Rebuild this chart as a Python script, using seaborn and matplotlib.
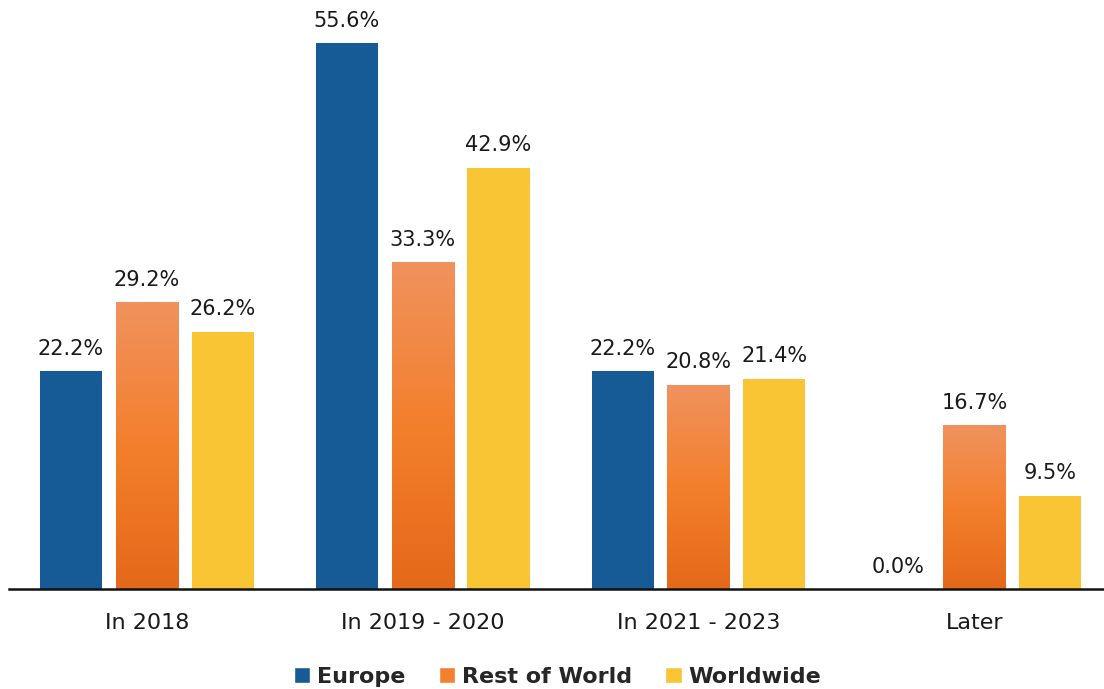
import numpy as np
import pandas as pd
import seaborn as sns
import matplotlib.pyplot as plt
from matplotlib.colors import LinearSegmentedColormap
from matplotlib.patches import Patch

# 데이터
periods = ['In 2018', 'In 2019 - 2020', 'In 2021 - 2023', 'Later']
regions = ['Europe', 'Rest of World', 'Worldwide']
europe = [22.2, 55.6, 22.2, 0.0]
rest_of_world = [29.2, 33.3, 20.8, 16.7]
worldwide = [26.2, 42.9, 21.4, 9.5]

df = pd.DataFrame({'period': periods * 3,
                   'region': np.repeat(regions, len(periods)),
                   'share': europe + rest_of_world + worldwide})

colors = {'Europe': '#165A96', 'Rest of World': '#F47F2D', 'Worldwide': '#F9C534'}
orange_grad = LinearSegmentedColormap.from_list('og', ['#E4691A', '#F37F2C', '#F0925E'])

sns.set_style('white')
plt.rcParams['font.family'] = ['DejaVu Sans']

fig = plt.figure(figsize=(11.04, 6.89), dpi=100)
ax = fig.add_axes([0.008, 0.145, 0.992, 0.855])

sns.barplot(data=df, x='period', y='share', hue='region', palette=colors,
            width=0.825, dodge=True, ax=ax, legend=False, saturation=1)

# 막대 폭 줄이기 + 라벨
for container, reg in zip(ax.containers, regions):
    for bar in container:
        cx = bar.get_x() + bar.get_width() / 2
        bar.set_width(0.225)
        bar.set_x(cx - 0.1125)
        bar.set_edgecolor('none')
        h = bar.get_height()
        if reg == 'Rest of World':
            grad = np.linspace(0, 1, 256).reshape(-1, 1)
            im = ax.imshow(grad, cmap=orange_grad, aspect='auto', origin='lower',
                           extent=[bar.get_x(), bar.get_x() + 0.225, 0, h],
                           zorder=bar.get_zorder() + 0.1)
            im.set_clip_path(bar)
        ax.annotate(f'{h:.1f}%', (cx, h), xytext=(0, 9), textcoords='offset points',
                    ha='center', va='bottom', fontsize=15, color='#1a1a1a')

ax.set_xlim(-0.5, 3.47)
ax.set_ylim(0, 60)
ax.set_xlabel('')
ax.set_ylabel('')
ax.set_yticks([])
for s in ['top', 'right', 'left']:
    ax.spines[s].set_visible(False)
ax.spines['bottom'].set_color('#111111')
ax.spines['bottom'].set_linewidth(1.8)
ax.tick_params(axis='x', length=0, pad=17, labelsize=16, labelcolor='#1a1a1a')

handles = [Patch(facecolor=colors[r], label=r) for r in regions]
fig.legend(handles=handles, loc='lower center', bbox_to_anchor=(0.505, -0.026),
           ncol=3, frameon=False, handlelength=0.75, handleheight=0.75,
           handletextpad=0.3, columnspacing=1.5,
           prop={'size': 16, 'weight': 'bold'})

fig.savefig('out.png', dpi=100)
